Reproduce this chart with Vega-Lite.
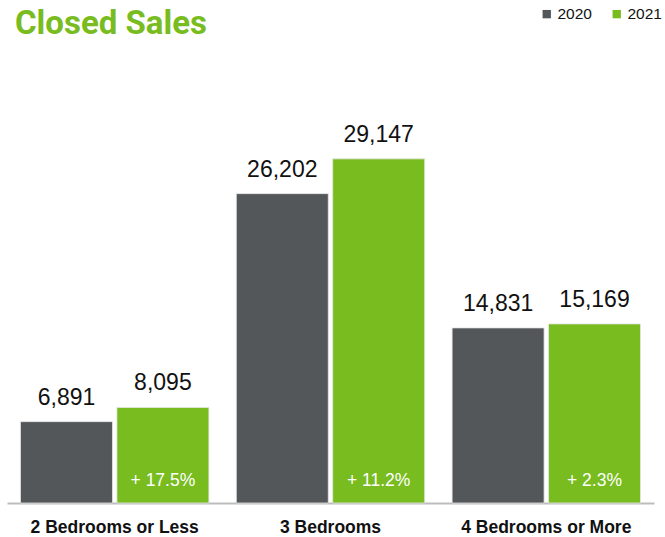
{
  "$schema": "https://vega.github.io/schema/vega-lite/v6.json",
  "width": 647,
  "height": 443,
  "autosize": {"type": "none"},
  "padding": {"left": 7, "top": 60, "right": 11, "bottom": 34},
  "background": "white",
  "config": {
    "view": {"stroke": null},
    "font": "Liberation Sans"
  },
  "title": {
    "text": "Closed Sales",
    "anchor": "start",
    "frame": "group",
    "orient": "top",
    "font": "Roboto",
    "fontSize": 33,
    "fontWeight": "bold",
    "color": "#78BC20",
    "baseline": "alphabetic",
    "offset": -61,
    "dx": 8
  },
  "data": {
    "values": [
      {"cat": "2 Bedrooms or Less", "year": "2020", "value": 6891, "pct": ""},
      {"cat": "2 Bedrooms or Less", "year": "2021", "value": 8095, "pct": "+ 17.5%"},
      {"cat": "3 Bedrooms", "year": "2020", "value": 26202, "pct": ""},
      {"cat": "3 Bedrooms", "year": "2021", "value": 29147, "pct": "+ 11.2%"},
      {"cat": "4 Bedrooms or More", "year": "2020", "value": 14831, "pct": ""},
      {"cat": "4 Bedrooms or More", "year": "2021", "value": 15169, "pct": "+ 2.3%"}
    ]
  },
  "encoding": {
    "x": {
      "field": "cat",
      "type": "nominal",
      "sort": null,
      "scale": {"paddingInner": 0.127, "paddingOuter": 0.0625},
      "axis": {
        "title": null,
        "labelAngle": 0,
        "ticks": false,
        "domainColor": "#BDBDBD",
        "domainWidth": 2,
        "labelFont": "Liberation Sans",
        "labelFontWeight": "bold",
        "labelFontSize": 17.5,
        "labelColor": "#111111",
        "labelPadding": 15
      }
    },
    "xOffset": {
      "field": "year",
      "type": "nominal",
      "scale": {"paddingInner": 0.046, "paddingOuter": 0}
    },
    "y": {
      "field": "value",
      "type": "quantitative",
      "scale": {"domain": [0, 37520]},
      "axis": null
    }
  },
  "layer": [
    {
      "mark": {"type": "bar", "stroke": "#E6E6E6", "strokeWidth": 0.8},
      "encoding": {
        "color": {
          "field": "year",
          "type": "nominal",
          "scale": {"domain": ["2020", "2021"], "range": ["#54575A", "#78BC20"]},
          "legend": {
            "title": null,
            "orient": "none",
            "legendX": 532,
            "legendY": -54,
            "direction": "horizontal",
            "symbolType": "square",
            "symbolSize": 70,
            "symbolStrokeWidth": 0,
            "labelFontSize": 15.5,
            "labelFont": "Liberation Sans",
            "labelColor": "#111111",
            "labelOffset": 3,
            "columnPadding": 17,
            "padding": 0
          }
        }
      }
    },
    {
      "mark": {
        "type": "text",
        "baseline": "alphabetic",
        "dy": -17,
        "fontSize": 23,
        "color": "#111111"
      },
      "encoding": {
        "text": {"field": "value", "type": "quantitative", "format": ","}
      }
    },
    {
      "mark": {
        "type": "text",
        "baseline": "alphabetic",
        "dy": -17,
        "fontSize": 17.5,
        "color": "white"
      },
      "encoding": {
        "y": {"datum": 0},
        "text": {"field": "pct"}
      }
    }
  ]
}
